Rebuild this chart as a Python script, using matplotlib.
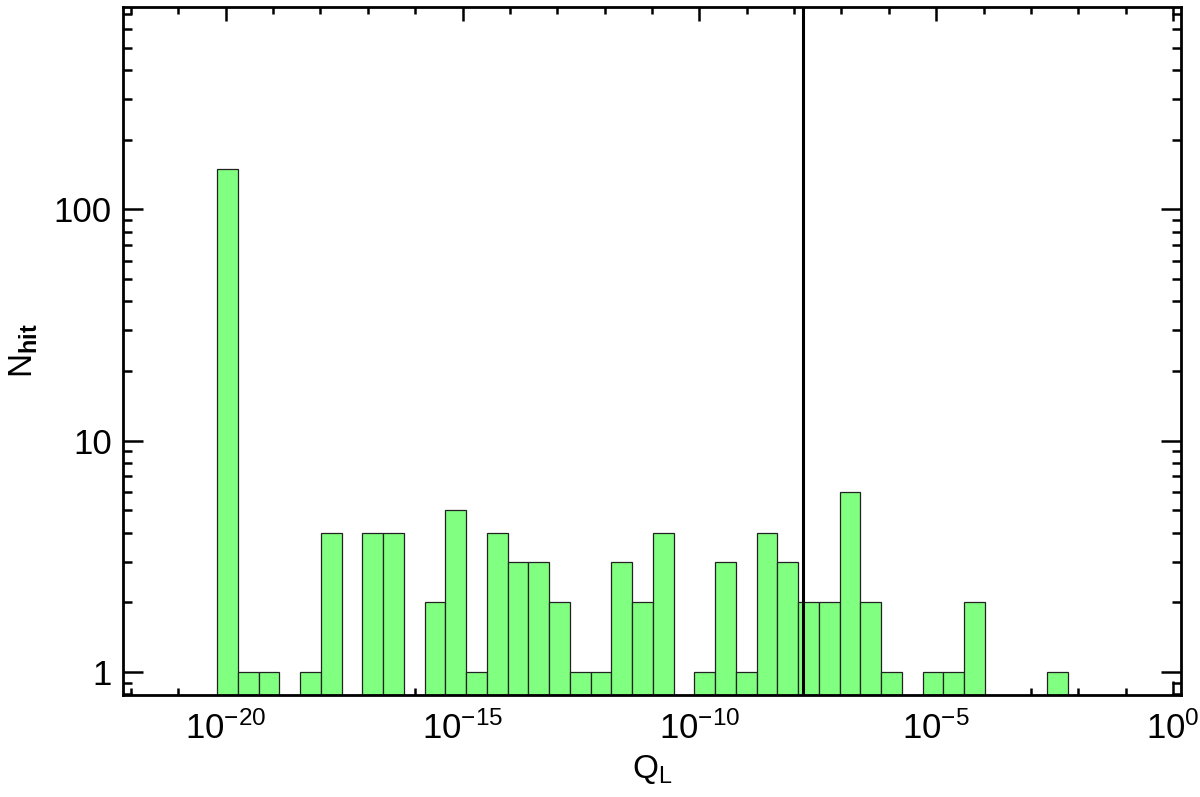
import numpy as np
import matplotlib
matplotlib.use('Agg')
import matplotlib.pyplot as plt
from matplotlib.ticker import LogLocator, FixedLocator, NullFormatter, LogFormatterMathtext

# histogram of hits per bin of log10(Q_L)
counts = [149, 1, 1, 0, 1, 4, 0, 4, 4, 0,
          2, 5, 1, 4, 3, 3, 2, 1, 1, 3,
          2, 4, 0, 1, 3, 1, 4, 3, 2, 2,
          6, 2, 1, 0, 1, 1, 2, 0, 0, 0,
          1]
log_first_edge = -20.18   # left edge of the first bin (log10 Q_L)
log_bin_width = 0.438     # bin width in decades
log_q_cut = -7.81         # vertical line
x_range_log = (-22.17, 0.17)
y_range = (0.795, 750)
x_major = [1e-20, 1e-15, 1e-10, 1e-5, 1e0]
y_major = [1, 10, 100]

plt.rcParams['font.family'] = ['Liberation Sans', 'DejaVu Sans']
plt.rcParams['mathtext.fontset'] = 'custom'
plt.rcParams['mathtext.rm'] = 'Liberation Sans'
plt.rcParams['mathtext.it'] = 'Liberation Sans:italic'
plt.rcParams['mathtext.bf'] = 'Liberation Sans:bold'

fig = plt.figure(figsize=(12, 7.97), dpi=100)
ax = fig.add_axes([0.1025, 0.128, 0.8817, 0.8632])

counts = np.array(counts)
left = log_first_edge + log_bin_width * np.arange(len(counts))
xl = 10.0 ** left
xr = 10.0 ** (left + log_bin_width)
m = counts > 0
ax.bar(xl[m], counts[m] - y_range[0], width=(xr - xl)[m], bottom=y_range[0],
       align='edge', color='#80ff80', edgecolor='#222222', linewidth=0.9, zorder=2)

ax.axvline(10 ** log_q_cut, color='k', lw=2.2, zorder=3)

ax.set_xscale('log')
ax.set_yscale('log')
ax.set_xlim(10 ** x_range_log[0], 10 ** x_range_log[1])
ax.set_ylim(*y_range)

ax.xaxis.set_major_locator(FixedLocator(x_major))
ax.xaxis.set_major_formatter(LogFormatterMathtext())
ax.xaxis.set_minor_locator(FixedLocator([10.0 ** k for k in range(-22, 1)]))
ax.xaxis.set_minor_formatter(NullFormatter())
ax.yaxis.set_major_locator(FixedLocator(y_major))
ax.yaxis.set_major_formatter(matplotlib.ticker.FuncFormatter(lambda v, p: '%d' % v))
ax.yaxis.set_minor_locator(LogLocator(base=10, subs=np.arange(2, 10), numticks=20))
ax.yaxis.set_minor_formatter(NullFormatter())

for s in ax.spines.values():
    s.set_linewidth(2)
    s.set_zorder(4)

ax.tick_params(axis='both', which='both', direction='in', top=True, right=True,
               labelsize=25, width=1.8)
ax.tick_params(axis='x', which='major', length=10, pad=12)
ax.tick_params(axis='x', which='minor', length=5)
ax.tick_params(axis='y', which='major', length=14.5, pad=8)
ax.tick_params(axis='y', which='minor', length=6.5)

ax.set_xlabel(r'$\mathrm{Q_L}$', fontsize=24, labelpad=5)
ax.set_ylabel(r'$\mathrm{N_{\mathbf{hit}}}$', fontsize=24, labelpad=10)

fig.savefig('out.png', dpi=100)
